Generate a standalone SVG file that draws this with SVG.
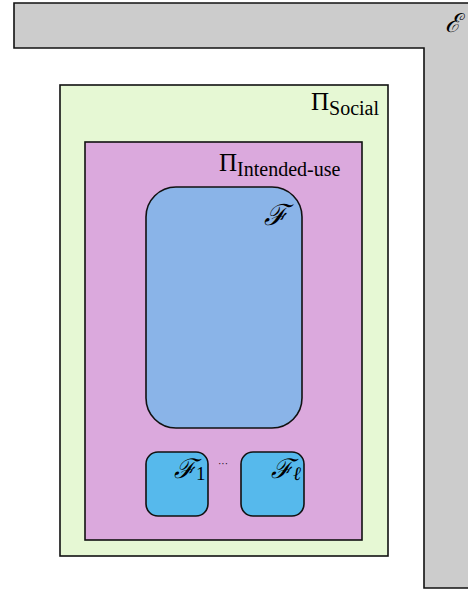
<svg xmlns="http://www.w3.org/2000/svg" width="468" height="589" viewBox="0 0 468 589">
<style>
.b{stroke:#111;stroke-width:1.6}
.t{font-family:"DejaVu Serif","Liberation Serif",serif;fill:#000;font-style:italic}
.s{font-family:"Liberation Serif",serif;fill:#000;font-style:normal}
</style>
<g id="env">
<path d="M470,3 L14,3 L14,48 L424,48 L424,588 L470,588 Z" fill="#cccccc" class="b"/>
<text class="t" x="453" y="32" font-size="26" text-anchor="middle">ℰ</text>
</g>
<g id="social">
<rect x="60" y="85" width="328" height="471" fill="#e6f8d4" class="b"/>
<text class="s" x="311" y="110" font-size="25">Π<tspan font-size="20" dy="5">Social</tspan></text>
</g>
<g id="intended">
<rect x="85" y="142" width="277" height="398" fill="#dba9dd" class="b"/>
<text class="s" x="219" y="171" font-size="25">Π<tspan font-size="20" dy="5">Intended-use</tspan></text>
</g>
<g id="F">
<rect x="146" y="187" width="156" height="241" rx="30" fill="#8ab4e8" class="b"/>
<text class="t" x="276" y="225" font-size="29" text-anchor="middle">ℱ</text>
</g>
<g id="F1">
<rect x="146" y="452" width="62" height="64" rx="12" fill="#56b9ec" class="b"/>
<text class="t" x="174" y="478" font-size="27">ℱ<tspan class="s" font-size="19" dy="2">1</tspan></text>
</g>
<text class="s" x="223" y="467" font-size="10" text-anchor="middle">···</text>
<g id="Fl">
<rect x="241" y="452" width="63" height="64" rx="12" fill="#56b9ec" class="b"/>
<text class="t" x="271" y="478" font-size="27">ℱ<tspan font-size="19" dy="2">ℓ</tspan></text>
</g>
<g id="connectors"/>
</svg>
